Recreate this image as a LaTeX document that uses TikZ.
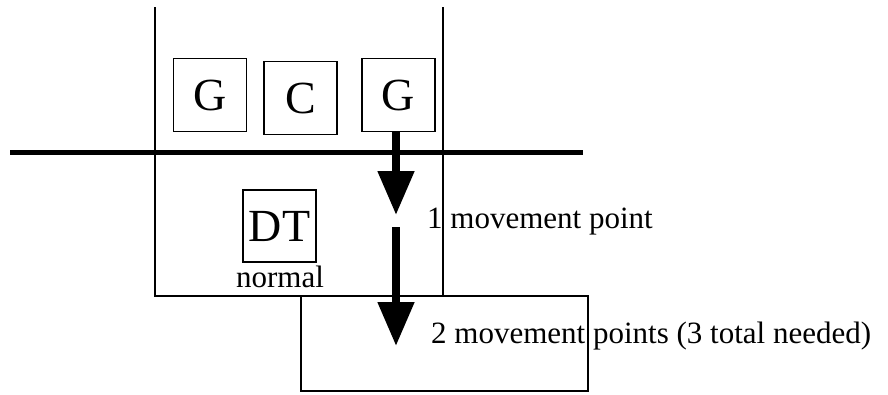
\documentclass[tikz,border=0pt]{standalone}
\usepackage{fontspec}
\setmainfont{Liberation Serif}
\usetikzlibrary{arrows.meta}
\begin{document}
\begin{tikzpicture}[x=1pt,y=-1pt,
  thin line/.style={line width=1.6pt},
  unitbox/.style={draw,line width=1.6pt,minimum width=73pt,minimum height=73pt,inner sep=0pt,
    font=\fontsize{46}{46}\selectfont},
  lbl/.style={inner sep=0pt,font=\fontsize{31}{31}\selectfont},
  move/.style={line width=8pt,-{Triangle[width=35pt,length=44pt]}}]
\useasboundingbox (0,0) rectangle (888,394);
% hex boundaries
\draw[thin line] (155,7) -- (155,296) -- (588,296) -- (588,391) -- (301,391) -- (301,296);
\draw[thin line] (443,7) -- (443,296);
\draw[line width=5pt] (10,152) -- (583,152);
% units
\node[unitbox] (g1) at (210,95) {G};
\node[unitbox] (c) at (300.5,98) {C};
\node[unitbox] (g2) at (398.5,95) {G};
\node[unitbox,minimum height=72pt] (dt) at (279.5,226) {DT};
\node[lbl,anchor=base] (normal) at (280,287) {normal};
% movement arrows
\coordinate (a1) at (396,215);
\coordinate (b0) at (396,227);
\coordinate (b1) at (396,346);
\draw[move] (g2.south -| a1) -- (a1);
\draw[move] (b0) -- (b1);
\node[lbl,anchor=base west] (m1) at (427,228) {1 movement point};
\node[lbl,anchor=base west] (m2) at (431,343) {2 movement points (3 total needed)};
\end{tikzpicture}
\end{document}
